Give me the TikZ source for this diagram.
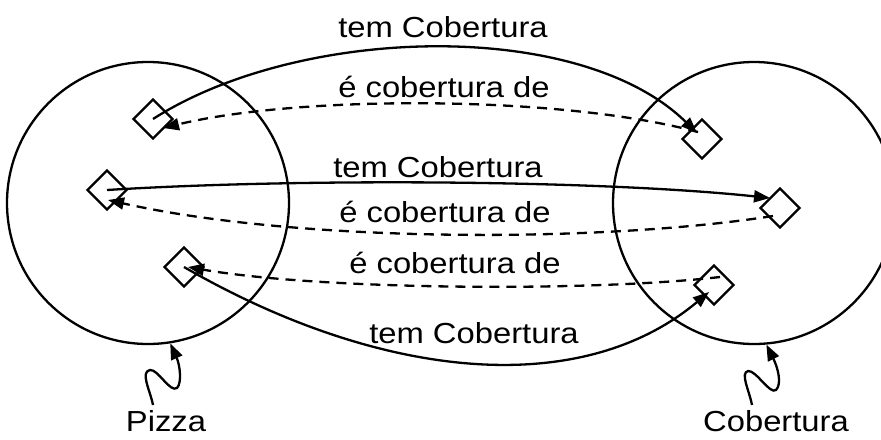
\documentclass[tikz,border=0pt]{standalone}
\usepackage{fontspec}
\setmainfont{Liberation Sans}
\usepackage{graphicx}
\usetikzlibrary{shapes.geometric,arrows.meta}
\newcommand\lbl[1]{\scalebox{1.13}[1]{#1}}
\begin{document}
\begin{tikzpicture}[x=0.5pt,y=-0.5pt, line width=1.15pt,
  dia/.style={draw, diamond, aspect=1, minimum size=20pt, inner sep=0pt},
  ring/.style={draw, circle, minimum size=141pt, inner sep=0pt},
  rel/.style={-{Triangle[length=8pt,width=6pt]}},
  inv/.style={rel, dash pattern=on 5pt off 3.5pt},
  squig/.style={-{Triangle[length=8pt,width=6pt]}},
  lab/.style={font=\fontsize{14.5}{17}\selectfont, inner sep=0pt, anchor=base}]
\useasboundingbox (0,0) rectangle (881,439);
% circles
\node[ring] (pz) at (148,203) {};
\node[ring] (cb) at (754,203) {};
% diamonds
\node[dia] (a1) at (153,119) {};
\node[dia] (a2) at (107,190) {};
\node[dia] (a3) at (184,267) {};
\node[dia] (b1) at (702,139) {};
\node[dia] (b2) at (780,208) {};
\node[dia] (b3) at (714,285) {};
% relations
\draw[rel] (a1.center) .. controls (300,25) and (580,18) .. ([shift={(-5,-6)}]b1.center);
\draw[inv] ([shift={(-4,-7)}]b1.center) .. controls (560,95) and (300,95) .. ([shift={(10,9)}]a1.center);
\draw[rel] (a2.center) .. controls (300,178) and (600,180) .. ([shift={(-10,-10)}]b2.center);
\draw[inv] ([shift={(-7,8)}]b2.center) .. controls (600,243) and (300,243) .. ([shift={(1,10)}]a2.center);
\draw[inv] ([shift={(6,-8)}]b3.center) .. controls (590,292) and (320,290) .. ([shift={(4,0)}]a3.center);
\draw[rel] (a3.center) .. controls (380,380) and (580,400) .. ([shift={(-5,7)}]b3.center);
% labels
\node[lab] (t1) at (443,37) {\lbl{tem Cobertura}};
\node[lab] (e1) at (444,97) {\lbl{é cobertura de}};
\node[lab] (t2) at (438,177) {\lbl{tem Cobertura}};
\node[lab] (e2) at (445,222) {\lbl{é cobertura de}};
\node[lab] (e3) at (455,273) {\lbl{é cobertura de}};
\node[lab] (t3) at (474,343) {\lbl{tem Cobertura}};
\node[lab] (pzl) at (166,431) {\lbl{Pizza}};
\node[lab] (cbl) at (776,431) {\lbl{Cobertura}};
% squiggles
\draw[squig] ([shift={(-13,-26)}]pzl.base) .. controls (150,390) and (140,372) .. (150,370)
  .. controls (158,369) and (170,393) .. (177,388)
  .. controls (182,383) and (180,365) .. (pz.-81);
\draw[squig] ([shift={(-24,-26)}]cbl.base) .. controls (749,390) and (740,373) .. (748,371)
  .. controls (756,370) and (770,395) .. (776,390)
  .. controls (782,384) and (778,368) .. (cb.-85);
\end{tikzpicture}
\end{document}
